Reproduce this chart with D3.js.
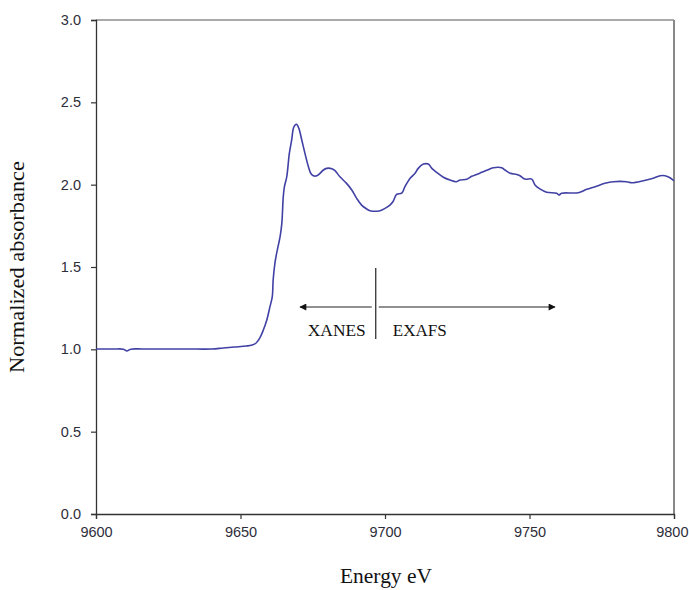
<!DOCTYPE html>
<html>
<head>
<meta charset="utf-8">
<script src="https://cdn.jsdelivr.net/npm/d3@7"></script>
<style>
  html, body { margin: 0; padding: 0; background: #fff; }
  svg { display: block; }
  .tick text { font-family: "Liberation Sans", Arial, sans-serif; font-size: 14.5px; fill: #2e2e3a; }
  .serif { font-family: "Liberation Serif", "Times New Roman", serif; fill: #111; }
</style>
</head>
<body>
<svg id="chart" width="689" height="590"></svg>
<script>
// Normalized absorbance spectrum across the absorption edge
const energy = [
  9600, 9606, 9609.5, 9610.7, 9612, 9616, 9624, 9632, 9640, 9644, 9648, 9652, 9654, 9655.5, 9656.7, 9657.9,
  9659.1, 9660.2, 9661.0, 9661.3, 9661.9, 9662.5, 9663.7, 9664.3, 9664.8, 9665.2,
  9666.0, 9666.9, 9667.7, 9668.3, 9668.9, 9669.4, 9670.2, 9671.2, 9672.3, 9673.5,
  9674.3, 9675.2, 9676.4, 9677.5, 9678.7, 9679.8, 9681.6, 9682.7, 9684.4, 9686.7,
  9688.5, 9690.2, 9691.9, 9693.7, 9694.8, 9698.3, 9700.0, 9701.7, 9702.9, 9704.0,
  9705.8, 9706.9, 9708.7, 9710.4, 9711.5, 9713.3, 9715.0, 9716.2, 9717.9, 9720.2,
  9722.5, 9724.6, 9726.0, 9728.3, 9730.0, 9731.7, 9733.5, 9735.2, 9737.5, 9740.4,
  9741.5, 9743.3, 9745.6, 9746.7, 9748.4, 9750.8, 9751.9, 9753.6, 9755.9, 9759.4,
  9760.2, 9761.1, 9766.9, 9769.8, 9772.7, 9776.1, 9779.0, 9783.6, 9785.4, 9789.4,
  9792.8, 9795.2, 9796.9, 9798.6, 9800
];
const absorbance = [
  1.002, 1.002, 1.001, 0.990, 1.001, 1.002, 1.002, 1.002, 1.002, 1.008, 1.014, 1.020, 1.026, 1.040, 1.069, 1.117,
  1.178, 1.259, 1.320, 1.421, 1.522, 1.583, 1.684, 1.765, 1.927, 1.988,
  2.048, 2.190, 2.271, 2.342, 2.362, 2.367, 2.342, 2.271, 2.190, 2.109,
  2.069, 2.054, 2.054, 2.069, 2.089, 2.099, 2.097, 2.085, 2.048, 2.008,
  1.968, 1.917, 1.876, 1.852, 1.842, 1.842, 1.856, 1.876, 1.901, 1.941,
  1.948, 1.988, 2.039, 2.069, 2.099, 2.125, 2.125, 2.099, 2.074, 2.045,
  2.028, 2.018, 2.028, 2.033, 2.051, 2.062, 2.075, 2.087, 2.103, 2.103,
  2.089, 2.069, 2.062, 2.054, 2.034, 2.034, 1.998, 1.974, 1.954, 1.948,
  1.937, 1.948, 1.951, 1.972, 1.988, 2.008, 2.018, 2.018, 2.012, 2.024,
  2.039, 2.054, 2.054, 2.042, 2.024
];

const xTicks = [9600, 9650, 9700, 9750, 9800];
const yTicks = [0.0, 0.5, 1.0, 1.5, 2.0, 2.5, 3.0];

// XANES / EXAFS boundary marker and region arrows
const boundaryEnergy = 9696.8;
const boundarySpan = [1.063, 1.494];
const arrowLevel = 1.257;
const xanesStart = 9670.6;
const exafsEnd = 9758.8;
const regionLabels = ["XANES", "EXAFS"];

const svg = d3.select("#chart");
const margin = { left: 96, right: 15, top: 20, bottom: 76 };
const W = 689, H = 590;

const x = d3.scaleLinear().domain([9600, 9800]).range([margin.left, W - margin.right]);
const y = d3.scaleLinear().domain([0, 3]).range([H - margin.bottom, margin.top]);

// plot frame (top and right)
svg.append("line")
  .attr("x1", x(9600)).attr("x2", x(9800)).attr("y1", y(3)).attr("y2", y(3))
  .attr("stroke", "#555").attr("stroke-width", 1.2);
svg.append("line")
  .attr("x1", x(9800)).attr("x2", x(9800)).attr("y1", y(3)).attr("y2", y(0))
  .attr("stroke", "#888").attr("stroke-width", 2);

// axes
const xAxis = svg.append("g")
  .attr("transform", `translate(0,${y(0)})`)
  .call(d3.axisBottom(x).tickValues(xTicks).tickFormat(d3.format("d")).tickSize(5).tickPadding(8));
const yAxis = svg.append("g")
  .attr("transform", `translate(${x(9600)},0)`)
  .call(d3.axisLeft(y).tickValues(yTicks).tickFormat(d3.format(".1f")).tickSize(5).tickPadding(10));
[xAxis, yAxis].forEach(g => {
  g.select(".domain").attr("stroke", "#333").attr("stroke-width", 1.3);
  g.selectAll(".tick line").attr("stroke", "#333").attr("stroke-width", 1.2);
});
// keep the last energy label inside the page edge
xAxis.selectAll(".tick text")
  .filter(d => d === 9800)
  .attr("text-anchor", "end")
  .attr("x", W - 1 - x(9800));

// spectrum line
const pts = energy.map((e, i) => [e, absorbance[i]]);
svg.append("path")
  .datum(pts)
  .attr("fill", "none")
  .attr("stroke", "#4141a5")
  .attr("stroke-width", 1.6)
  .attr("stroke-linejoin", "round")
  .attr("d", d3.line().x(d => x(d[0])).y(d => y(d[1])).curve(d3.curveCatmullRom.alpha(0.5)));

// arrow marker
svg.append("defs").append("marker")
  .attr("id", "arrowhead")
  .attr("viewBox", "0 0 10 10")
  .attr("refX", 9).attr("refY", 5)
  .attr("markerWidth", 10).attr("markerHeight", 7)
  .attr("markerUnits", "userSpaceOnUse")
  .attr("orient", "auto")
  .append("path").attr("d", "M0,0 L10,5 L0,10 Z").attr("fill", "#111");

const bx = x(boundaryEnergy);
svg.append("line")
  .attr("x1", bx).attr("x2", bx)
  .attr("y1", y(boundarySpan[1])).attr("y2", y(boundarySpan[0]))
  .attr("stroke", "#222").attr("stroke-width", 1.2);
svg.append("line")
  .attr("x1", bx - 4).attr("x2", x(xanesStart))
  .attr("y1", y(arrowLevel)).attr("y2", y(arrowLevel))
  .attr("stroke", "#222").attr("stroke-width", 1.2)
  .attr("marker-end", "url(#arrowhead)");
svg.append("line")
  .attr("x1", bx + 3).attr("x2", x(exafsEnd))
  .attr("y1", y(arrowLevel)).attr("y2", y(arrowLevel))
  .attr("stroke", "#222").attr("stroke-width", 1.2)
  .attr("marker-end", "url(#arrowhead)");

svg.append("text").attr("class", "serif")
  .attr("x", bx - 10).attr("y", y(boundarySpan[0]) - 3)
  .attr("text-anchor", "end").attr("font-size", 16)
  .attr("textLength", 58).attr("lengthAdjust", "spacingAndGlyphs")
  .text(regionLabels[0]);
svg.append("text").attr("class", "serif")
  .attr("x", bx + 17).attr("y", y(boundarySpan[0]) - 3)
  .attr("text-anchor", "start").attr("font-size", 16)
  .attr("textLength", 54).attr("lengthAdjust", "spacingAndGlyphs")
  .text(regionLabels[1]);

// axis titles
svg.append("text").attr("class", "serif")
  .attr("x", 386).attr("y", 583)
  .attr("text-anchor", "middle").attr("font-size", 20)
  .attr("textLength", 92).attr("lengthAdjust", "spacingAndGlyphs")
  .text("Energy eV");
svg.append("text").attr("class", "serif")
  .attr("transform", "translate(24,267) rotate(-90)")
  .attr("text-anchor", "middle").attr("font-size", 20)
  .attr("textLength", 212).attr("lengthAdjust", "spacingAndGlyphs")
  .text("Normalized absorbance");
</script>
</body>
</html>
